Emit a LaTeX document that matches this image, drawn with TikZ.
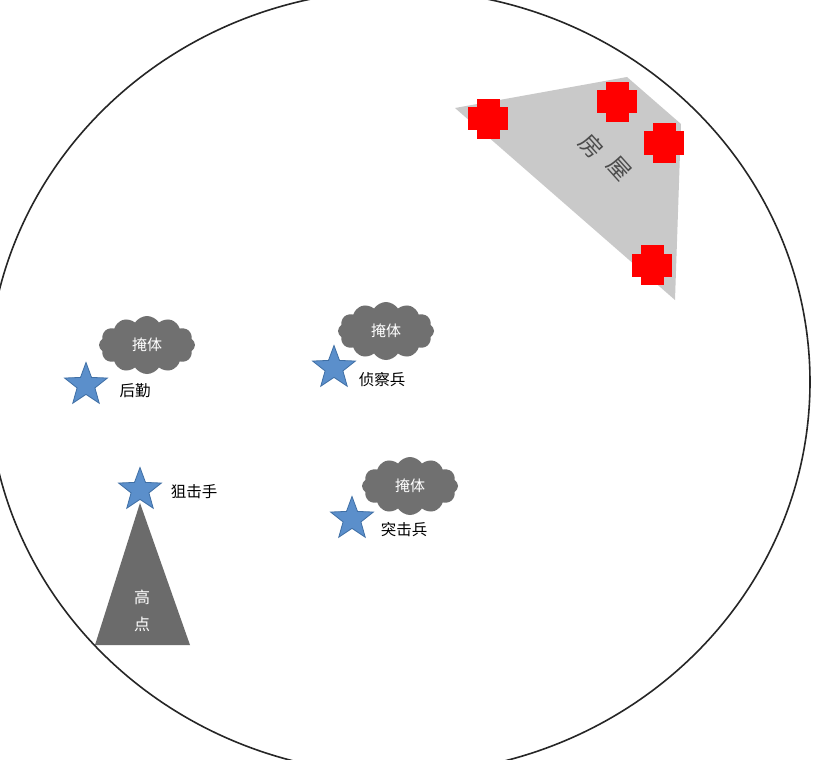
\documentclass[tikz,border=0pt]{standalone}
\usepackage{fontspec}
\setmainfont{Noto Sans CJK SC}
\usetikzlibrary{shapes.symbols,shapes.geometric}
\definecolor{cloudgray}{HTML}{707070}
\definecolor{peakgray}{HTML}{6B6B6B}
\definecolor{housegray}{HTML}{C9C9C9}
\definecolor{starblue}{HTML}{5B8FCB}
\definecolor{starline}{HTML}{3F6FA5}
\definecolor{crossred}{HTML}{FF0000}
\tikzset{
  cover/.style={cloud, cloud puffs=12, cloud puff arc=115, aspect=1.6,
    fill=cloudgray, draw=none, minimum width=96pt, minimum height=58pt,
    inner sep=0pt, text=white, font=\fontsize{15}{15}\selectfont},
  soldier/.style={star, star points=5, star point ratio=2.4, fill=starblue,
    draw=starline, line width=0.8pt, minimum size=45pt, inner sep=0pt},
  lbl/.style={font=\fontsize{15.5}{16}\selectfont, text=black, inner sep=0pt},
  houselbl/.style={rotate=-48, text=black!70, font=\fontsize{23}{23}\selectfont, inner sep=0pt},
  redcross/.pic={
    \fill[crossred] (-20,-11.5) rectangle (20,11.5);
    \fill[crossred] (-11.5,-20) rectangle (11.5,20);
  }
}
\begin{document}
\begin{tikzpicture}[x=1pt,y=-1pt]
\useasboundingbox (0,0) rectangle (815,760);
\fill[white] (0,0) rectangle (815,760);
\clip (0,0) rectangle (815,760);
% area
\draw[line width=1.6pt, black!85] (399,382) ellipse [x radius=411, y radius=392];
% house
\fill[housegray] (455,108) -- (627,77) -- (681,124) -- (675,300) -- cycle;
\node[houselbl] (house1) at (592,146) {房};
\node[houselbl] (house2) at (619,169) {屋};
\pic at (488,119) {redcross};
\pic at (617,102) {redcross};
\pic at (664,143) {redcross};
\pic at (652,265) {redcross};
% high point
\fill[peakgray] (140,503) -- (190,645) -- (95,645) -- cycle;
\node[text=white, font=\fontsize{16}{16}\selectfont, inner sep=0pt] (high1) at (142,597) {高};
\node[text=white, font=\fontsize{16}{16}\selectfont, inner sep=0pt] (high2) at (142,624) {点};
% covers
\node[cover] (c1) at (147,345) {掩体};
\node[cover] (c2) at (386,331) {掩体};
\node[cover] (c3) at (410,486) {掩体};
% soldiers
\node[soldier] (s1) at (86,385) {};
\node[soldier] (s2) at (334,368) {};
\node[soldier] (s3) at (140,490) {};
\node[soldier] (s4) at (352,519) {};
\node[lbl] (l1) at (135,391) {后勤};
\node[lbl] (l2) at (382,380) {侦察兵};
\node[lbl] (l3) at (194,492) {狙击手};
\node[lbl] (l4) at (404,530) {突击兵};
\end{tikzpicture}
\end{document}
